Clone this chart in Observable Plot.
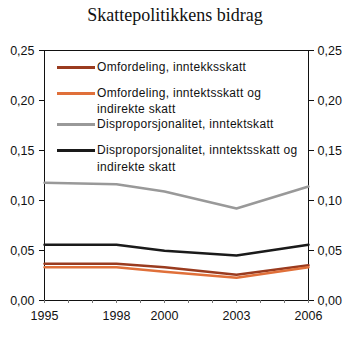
<!DOCTYPE html>
<html><head><meta charset="utf-8">
<script src="https://cdn.jsdelivr.net/npm/d3@7"></script>
<script src="https://cdn.jsdelivr.net/npm/@observablehq/plot@0.6"></script>
<style>
body{margin:0;background:#fff;}
#wrap{position:relative;width:350px;height:337px;font-family:"Liberation Sans",Arial,sans-serif;}
#title{position:absolute;left:0;top:0;width:350px;text-align:center;font-family:"Liberation Serif","Times New Roman",serif;font-size:18px;line-height:30px;color:#111;}
#chart{position:absolute;left:0;top:30px;}
.lg{position:absolute;font-size:12px;letter-spacing:0.3px;color:#111;white-space:nowrap;line-height:10px;}
.sw{position:absolute;height:3px;width:38px;}
</style></head>
<body><div id="wrap"><div id="title">Skattepolitikkens bidrag</div><div id="chart"></div></div>
<script>
const years = [1995, 1998, 2000, 2003, 2006];
const labelYears = [1995, 1998, 2000, 2003, 2006];
const allYears = [1995,1996,1997,1998,1999,2000,2001,2002,2003,2004,2005,2006];
const seriesNames = [
  "Omfordeling, inntekksskatt",
  "Omfordeling, inntektsskatt og indirekte skatt",
  "Disproporsjonalitet, inntektskatt",
  "Disproporsjonalitet, inntektsskatt og indirekte skatt"
];
const legendLines = [
  ["Omfordeling, inntekksskatt"],
  ["Omfordeling, inntektsskatt og", "indirekte skatt"],
  ["Disproporsjonalitet, inntektskatt"],
  ["Disproporsjonalitet, inntektsskatt og", "indirekte skatt"]
];
const colors = ["#9a3b1f", "#e0703a", "#999999", "#1a1a1a"];
const omfInntekt = [0.0367, 0.0367, 0.0333, 0.0257, 0.0353];
const omfIndirekte = [0.0333, 0.0333, 0.0287, 0.0227, 0.0333];
const dispInntekt = [0.1177, 0.1163, 0.1090, 0.0920, 0.1140];
const dispIndirekte = [0.0557, 0.0557, 0.0497, 0.0450, 0.0557];
const yTicks = [0, 0.05, 0.10, 0.15, 0.20, 0.25];

const allSeries = [omfInntekt, omfIndirekte, dispInntekt, dispIndirekte];
const data = [];
allSeries.forEach((vals, si) => years.forEach((yr, i) => data.push({series: seriesNames[si], year: yr, value: vals[i]})));

const fmt = d => d3.format(".2f")(d).replace(".", ",");

const plot = Plot.plot({
  width: 350, height: 307,
  marginTop: 20, marginBottom: 37, marginLeft: 44, marginRight: 42,
  style: {fontFamily: '"Liberation Sans", Arial, sans-serif', fontSize: "12.5px", color: "#111", background: "transparent"},
  x: {domain: [1995, 2006]},
  y: {domain: [0, 0.25]},
  color: {domain: seriesNames, range: colors},
  marks: [
    Plot.frame({stroke: "#111", strokeWidth: 1}),
    Plot.axisX(allYears, {tickSize: 3, tickFormat: () => "", label: null, stroke: "#777"}),
    Plot.axisX(labelYears, {tickSize: 0, tickPadding: 11, tickFormat: d => String(d), label: null}),
    Plot.axisY(yTicks, {anchor: "left", tickSize: 5, tickPadding: 5, tickFormat: fmt, label: null}),
    Plot.axisY(yTicks, {anchor: "right", tickSize: 5, tickPadding: 4, tickFormat: fmt, label: null}),
    Plot.line(data, {x: "year", y: "value", z: "series", stroke: "series", strokeWidth: 2.5})
  ]
});
document.getElementById("chart").appendChild(plot);

// legend overlay
const wrap = document.getElementById("wrap");
const lineYs = [67, 93, 124, 150];
const lineGap = [0, 16, 0, 17];
legendLines.forEach((lines, i) => {
  const sw = document.createElement("div");
  sw.className = "sw";
  sw.style.left = "57px";
  sw.style.top = (lineYs[i] - 1.5) + "px";
  sw.style.background = colors[i];
  wrap.appendChild(sw);
  lines.forEach((t, j) => {
    const d = document.createElement("div");
    d.className = "lg";
    d.textContent = t;
    d.style.left = "97px";
    d.style.top = (lineYs[i] - 5 + j * lineGap[i]) + "px";
    wrap.appendChild(d);
  });
});
</script></body></html>
